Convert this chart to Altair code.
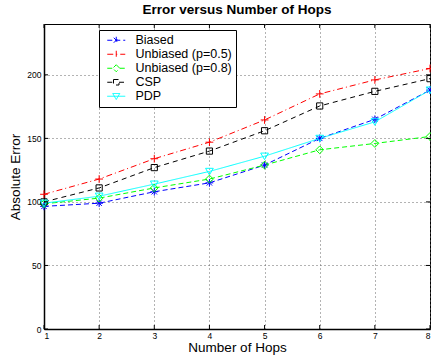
import altair as alt
import pandas as pd

hops = [1, 2, 3, 4, 5, 6, 7, 8]
series_names = ["Biased", "Unbiased (p=0.5)", "Unbiased (p=0.8)", "CSP", "PDP"]
biased = [96.5, 99, 108, 115, 129, 150, 165, 188]
unbiased_05 = [106, 118, 134, 147, 164.5, 185, 196, 205]
unbiased_08 = [98.5, 103, 111, 118, 129, 141, 146, 151.5]
csp = [100, 111, 127, 140, 156, 175.5, 187, 197]
pdp = [99, 104.5, 114, 124, 136, 150, 163, 188]
y_ticks = [0, 50, 100, 150, 200]

colors = ["#0000ff", "#ff0000", "#00ff00", "#000000", "#00ffff"]
dashes = [[5, 3], [6, 3, 1, 3], [5, 3], [5, 4], [1, 0]]
marker_paths = [
    "M-1,0L1,0M0,-1L0,1M-0.7,-0.7L0.7,0.7M-0.7,0.7L0.7,-0.7",
    "M-1,0L1,0M0,-1L0,1",
    "M0,-1L1,0L0,1L-1,0Z",
    "M-0.8,-0.8L0.8,-0.8L0.8,0.8L-0.8,0.8Z",
    "M-1,-0.8L1,-0.8L0,0.9Z",
]
legend_paths = [
    "M-1.8,0L1.8,0M0,-0.7L0,0.7M-0.5,-0.5L0.5,0.5M-0.5,0.5L0.5,-0.5",
    "M-1.8,0L1.8,0M0,-0.7L0,0.7",
    "M-1.8,0L-0.7,0M0.7,0L1.8,0M0,-0.7L0.7,0L0,0.7L-0.7,0Z",
    "M-1.8,0L-0.55,0M0.55,0L1.8,0M-0.55,-0.55L0.55,-0.55L0.55,0.55L-0.55,0.55Z",
    "M-1.8,0L1.8,0M-0.7,-0.55L0.7,-0.55L0,0.65Z",
]

rows = []
for name, vals in zip(series_names, [biased, unbiased_05, unbiased_08, csp, pdp]):
    for h, v in zip(hops, vals):
        rows.append({"hops": h, "err": v, "series": name})
df = pd.DataFrame(rows)

FONT = "Liberation Sans"
W, H = 386, 305

legend_props = dict(
    orient="none", legendX=55, legendY=6,
    fillColor="white", strokeColor="black", padding=4,
    labelFont=FONT, labelFontSize=12.5, labelColor="black", labelLimit=300,
    symbolSize=100, symbolStrokeWidth=1, symbolOffset=7, labelOffset=13,
    rowPadding=1, symbolFillColor="transparent", title=None,
)

x = alt.X("hops:Q", scale=alt.Scale(domain=[1, 8], nice=False, zero=False),
          axis=alt.Axis(values=hops, format="d", title="Number of Hops"))
y = alt.Y("err:Q", scale=alt.Scale(domain=[0, 240], nice=False),
          axis=alt.Axis(values=y_ticks, title="Absolute Error"))
color = alt.Color("series:N", scale=alt.Scale(domain=series_names, range=colors),
                  legend=alt.Legend(**legend_props))
dash = alt.StrokeDash("series:N", scale=alt.Scale(domain=series_names, range=dashes),
                      legend=alt.Legend(**legend_props))

base = alt.Chart(df)
lines = base.mark_line(strokeWidth=1).encode(x=x, y=y, color=color, strokeDash=dash)

point_layers = []
for name, path in zip(series_names, marker_paths):
    point_layers.append(
        base.transform_filter(alt.datum.series == name)
        .mark_point(shape=path, size=60, filled=False, strokeWidth=1, opacity=1)
        .encode(x=x, y=y, color=color)
    )

legend_layer = base.transform_filter("false").mark_point(
    filled=False, size=100, strokeWidth=1, opacity=1
).encode(
    x=x, y=y, color=color, strokeDash=dash,
    shape=alt.Shape("series:N", scale=alt.Scale(domain=series_names, range=legend_paths),
                    legend=alt.Legend(**legend_props)),
)

ytick_df = pd.DataFrame({"err": y_ticks})
xtick_df = pd.DataFrame({"hops": hops})
tick_style = dict(color="black", strokeWidth=1)
ticks_left = alt.Chart(ytick_df).mark_rule(**tick_style).encode(y=y, x=alt.value(0), x2=alt.value(4))
ticks_right = alt.Chart(ytick_df).mark_rule(**tick_style).encode(y=y, x=alt.value(W - 4), x2=alt.value(W))
ticks_bottom = alt.Chart(xtick_df).mark_rule(**tick_style).encode(x=x, y=alt.value(H - 4), y2=alt.value(H))
ticks_top = alt.Chart(xtick_df).mark_rule(**tick_style).encode(x=x, y=alt.value(0), y2=alt.value(4))

chart = alt.layer(
    lines, *point_layers, legend_layer, ticks_left, ticks_right, ticks_bottom, ticks_top
).properties(
    width=W, height=H,
    title=alt.TitleParams("Error versus Number of Hops", fontSize=13.5, fontWeight="bold",
                          font=FONT, color="black", anchor="middle", offset=7),
    autosize=alt.AutoSizeParams(type="none"),
    padding={"left": 44, "top": 24, "right": 1, "bottom": 31},
    background="white",
).configure_view(
    stroke="black", strokeWidth=1
).configure_axis(
    domainColor="black", domainWidth=1.5, ticks=False,
    labelFont=FONT, labelFontSize=8.5, labelColor="black",
    titleFont=FONT, titleFontSize=13.5, titleFontWeight="normal", titleColor="black",
    grid=True, gridColor="#666666", gridDash=[1, 3], gridWidth=1, gridOpacity=1,
).configure_axisX(
    labelPadding=2, titlePadding=1,
).configure_axisY(
    labelPadding=3, titlePadding=4,
).configure_legend(
    labelFontSize=12.5, labelFont=FONT,
)

chart.save("out.html", embed_options={"renderer": "svg", "actions": False})
